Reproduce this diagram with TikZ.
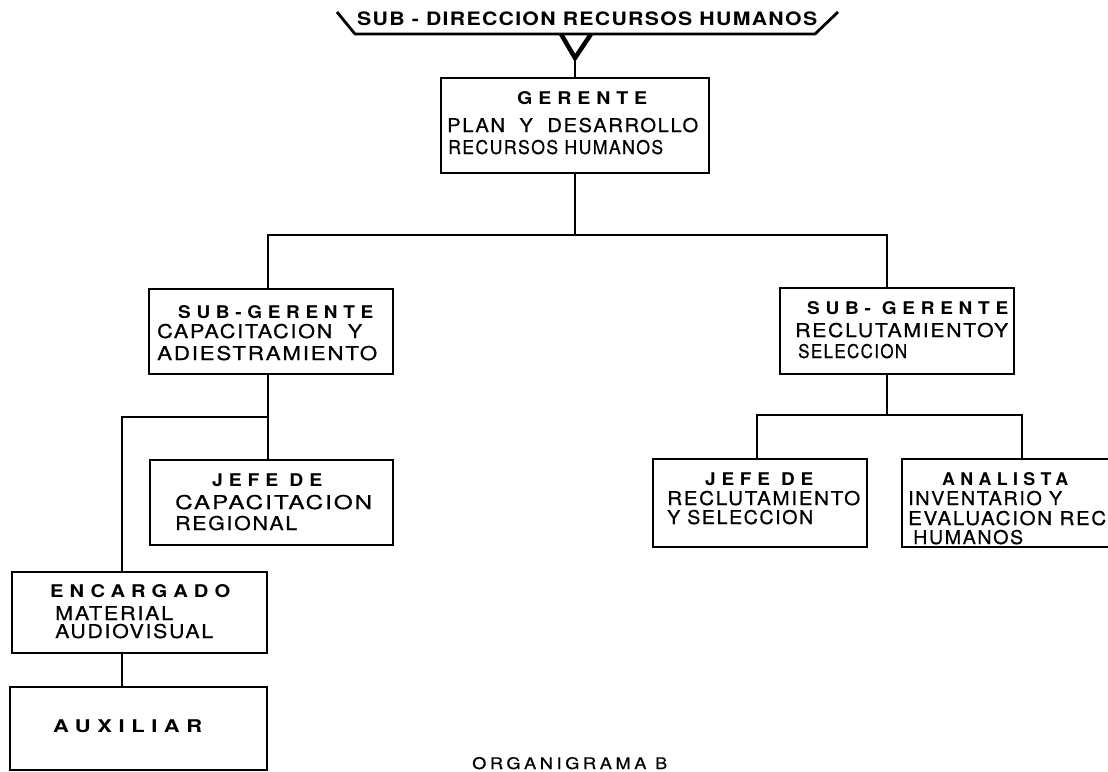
\documentclass[tikz,border=0pt]{standalone}
\usepackage{fontspec}
\usepackage{graphicx}
\setmainfont{TeX Gyre Heros}
% a line of lettering stretched horizontally to a given width (in pt)
\newcommand\fw[2]{\resizebox{#1pt}{\height}{#2}}
% bold, widely spaced heading lettering
\newcommand\hd[1]{{\fontsize{17.5}{20}\selectfont\bfseries\addfontfeature{LetterSpace=30}#1}}
% ordinary lettering, slightly spaced and a little heavier than regular
\newcommand\rg[1]{{\fontsize{19}{22}\selectfont\addfontfeature{LetterSpace=8,FakeBold=0.6}#1}}

\begin{document}
\begin{tikzpicture}[x=1pt,y=-1pt,
  box/.style={draw, line width=2.6pt, rectangle, inner sep=0pt},
  wire/.style={line width=2.2pt},
  txt/.style={inner sep=0pt, anchor=base west},
]
\path[use as bounding box] (0,0) rectangle (1108,771);
\clip (0,0) rectangle (1108,771);

% ---- title banner ----
\coordinate (banA) at (337,12);
\coordinate (banB) at (355,34);
\coordinate (banC) at (815,34);
\coordinate (banD) at (838,12);
\draw[line width=2.8pt, line join=round] (banA) -- (banB) -- (banC) -- (banD);
\node[txt] (banT) at (357,26) {\fw{460}{{\fontsize{18.5}{20}\selectfont\bfseries\addfontfeature{LetterSpace=6}SUB - DIRECCION RECURSOS HUMANOS}}};
\coordinate (vL) at (561,34);
\coordinate (vR) at (591,34);
\coordinate (vtip) at (575,58);
\draw[line width=4.5pt, line join=miter] (vL) -- (vtip) -- (vR);

% ---- boxes ----
\node[box, minimum width=268pt, minimum height=95pt] (ger)  at (575,125.5) {};
\node[box, minimum width=244pt, minimum height=85pt] (sgl)  at (271,331.5) {};
\node[box, minimum width=234pt, minimum height=86pt] (sgr)  at (897,331) {};
\node[box, minimum width=243pt, minimum height=85pt] (jcap) at (271.5,502.5) {};
\node[box, minimum width=255pt, minimum height=81pt] (enc)  at (139.5,612.5) {};
\node[box, minimum width=257pt, minimum height=83pt] (aux)  at (138.5,728.5) {};
\node[box, minimum width=214pt, minimum height=88pt] (jrec) at (760,503) {};
\node[box, minimum width=218pt, minimum height=88pt] (ana)  at (1011,503) {};

% ---- connectors ----
\draw[wire] (vtip) -- (ger.north);
\coordinate (j0) at (575,235);
\draw[wire] (ger.south) -- (j0);
\draw[wire] ([xshift=-3pt]sgl.north) |- (j0) -| ([xshift=-10pt]sgr.north);
\coordinate (j1) at (268,417);
\draw[wire] ([xshift=-3pt]sgl.south) -- ([xshift=-3.5pt]jcap.north);
\draw[wire] (j1) -| ([xshift=-17.5pt]enc.north);
\draw[wire] ([xshift=-17.5pt]enc.south) -- ([xshift=-16.5pt]aux.north);
\coordinate (j2) at (887,415);
\draw[wire] ([xshift=-10pt]sgr.south) -- (j2);
\draw[wire] ([xshift=-3pt]jrec.north) |- (j2) -| ([xshift=11pt]ana.north);

% ---- lettering ----
\node[txt] (gerA) at (517,104) {\fw{130}{\hd{GERENTE}}};
\node[txt] (gerB) at (447,132) {\fw{251}{\rg{PLAN~~Y~~DESARROLLO}}};
\node[txt] (gerC) at (448,154) {\fw{215}{\rg{RECURSOS HUMANOS}}};

\node[txt] (sglA) at (178,318) {\fw{195}{\hd{SUB-GERENTE}}};
\node[txt] (sglB) at (157,338) {\fw{205}{\rg{CAPACITACION~~Y}}};
\node[txt] (sglC) at (157,360) {\fw{220}{\rg{ADIESTRAMIENTO}}};

\node[txt] (sgrA) at (807,314) {\fw{201}{\hd{SUB- GERENTE}}};
\node[txt] (sgrB) at (795,337) {\fw{213}{\rg{RECLUTAMIENTOY}}};
\node[txt] (sgrC) at (798,358) {\fw{109}{\rg{SELECCION}}};

\node[txt] (jcapA) at (212,486) {\fw{110}{\hd{JEFE DE}}};
\node[txt] (jcapB) at (175,509) {\fw{197}{\rg{CAPACITACION}}};
\node[txt] (jcapC) at (175,530) {\fw{122}{\rg{REGIONAL}}};

\node[txt] (encA) at (50,597) {\fw{180}{\hd{ENCARGADO}}};
\node[txt] (encB) at (55,620) {\fw{118}{\rg{MATERIAL}}};
\node[txt] (encC) at (55,638) {\fw{158}{\rg{AUDIOVISUAL}}};

\node[txt] (auxA) at (53,732) {\fw{149}{\hd{AUXILIAR}}};

\node[txt] (jrecA) at (705,485) {\fw{108}{\hd{JEFE DE}}};
\node[txt] (jrecB) at (667,505) {\fw{193}{\rg{RECLUTAMIENTO}}};
\node[txt] (jrecC) at (667,524) {\fw{146}{\rg{Y SELECCION}}};

\node[txt] (anaA) at (942,485) {\fw{126}{\hd{ANALISTA}}};
\node[txt] (anaB) at (908,505) {\fw{154}{\rg{INVENTARIO Y}}};
\node[txt] (anaC) at (908,525) {\fw{198}{\rg{EVALUACION REC}}};
\node[txt] (anaD) at (913,544) {\fw{110}{\rg{HUMANOS}}};

\node[txt] (cap) at (472,769) {\fw{195}{{\fontsize{16}{18}\selectfont\addfontfeature{LetterSpace=20,FakeBold=0.4}ORGANIGRAMA B}}};
\end{tikzpicture}
\end{document}
